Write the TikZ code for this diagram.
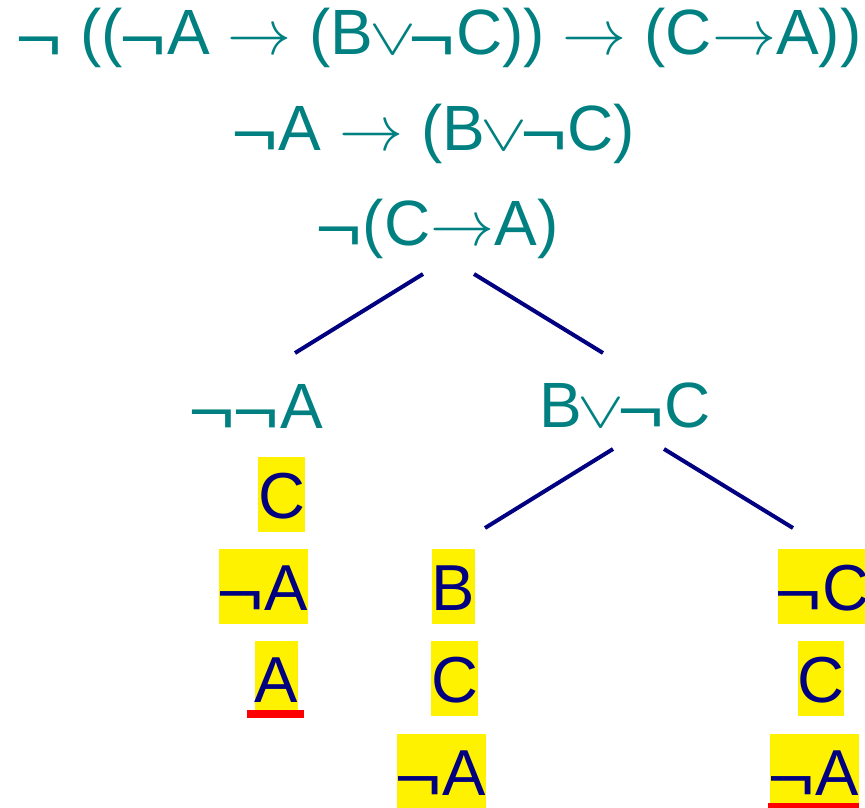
\documentclass[tikz,border=0pt]{standalone}
\usepackage{fix-cm}
\usepackage{graphicx}
\usepackage{fontspec}
\setmainfont{Liberation Sans}
\definecolor{tealc}{RGB}{0,128,128}
\definecolor{navyc}{RGB}{0,0,128}
\newcommand\ngx{\makebox[0.69em][l]{\hspace{-0.05em}\raisebox{-0.08em}{\scalebox{1.25}[1]{¬}}}}
\newcommand\impx{$\rightarrow$}
\newcommand\orx{\makebox[0.6em][c]{\scalebox{1.1}[0.8]{$\vee$}}}
\tikzset{
  formula/.style={font=\fontsize{64}{77}\selectfont, text=tealc, inner sep=0pt, anchor=base},
  lit/.style={font=\fontsize{65}{78}\selectfont, text=navyc, fill=yellow, inner sep=0pt,
    text height=61pt, text depth=14pt, anchor=base},
  branch/.style={draw=navyc, line width=4pt},
  closebar/.style={fill=red}
}
\begin{document}
\begin{tikzpicture}[x=1pt,y=-1pt]
\useasboundingbox (0,0) rectangle (865,808);
\node[formula] (f1) at (440,55) {\ngx\ ((\ngx A \impx\ (B\orx\ngx C)) \impx\ (C\impx A))};
\node[formula] (f2) at (435,150) {\ngx A \impx\ (B\orx\ngx C)};
\node[formula] (f3) at (438.5,245) {\ngx(C\impx A)};
\node[formula] (f4) at (257.5,428) {\ngx\ngx A};
\node[formula] (f5) at (625,427) {B\orx\ngx C};
% left column
\node[lit] (l1) at (281.5,518) {C};
\node[lit] (l2) at (263.5,610) {\ngx A};
\node[lit] (l3) at (276.5,702) {A};
% middle column
\node[lit] (m1) at (453.5,610) {B};
\node[lit] (m2) at (454.5,702) {C};
\node[lit] (m3) at (441.5,795) {\ngx A};
% right column
\node[lit] (r1) at (824,610) {\ngx C};
\node[lit] (r2) at (821,702) {C};
\node[lit] (r3) at (814.5,795) {\ngx A};
% branches
\coordinate (b1s) at (423,274);
\coordinate (b1e) at (295,353);
\coordinate (b2s) at (474,274);
\coordinate (b2e) at (603,353);
\coordinate (b3s) at (613,449);
\coordinate (b3e) at (485,528);
\coordinate (b4s) at (664,449);
\coordinate (b4e) at (793,528);
\draw[branch] (b1s) -- (b1e);
\draw[branch] (b2s) -- (b2e);
\draw[branch] (b3s) -- (b3e);
\draw[branch] (b4s) -- (b4e);
% closing bars
\fill[closebar] ([xshift=-8pt,yshift=6pt]l3.south west) rectangle ([xshift=6pt,yshift=-2pt]l3.south east);
\fill[closebar] ([xshift=-2pt,yshift=6pt]r3.south west) rectangle ([xshift=0pt,yshift=-2pt]r3.south east);
\end{tikzpicture}
\end{document}
